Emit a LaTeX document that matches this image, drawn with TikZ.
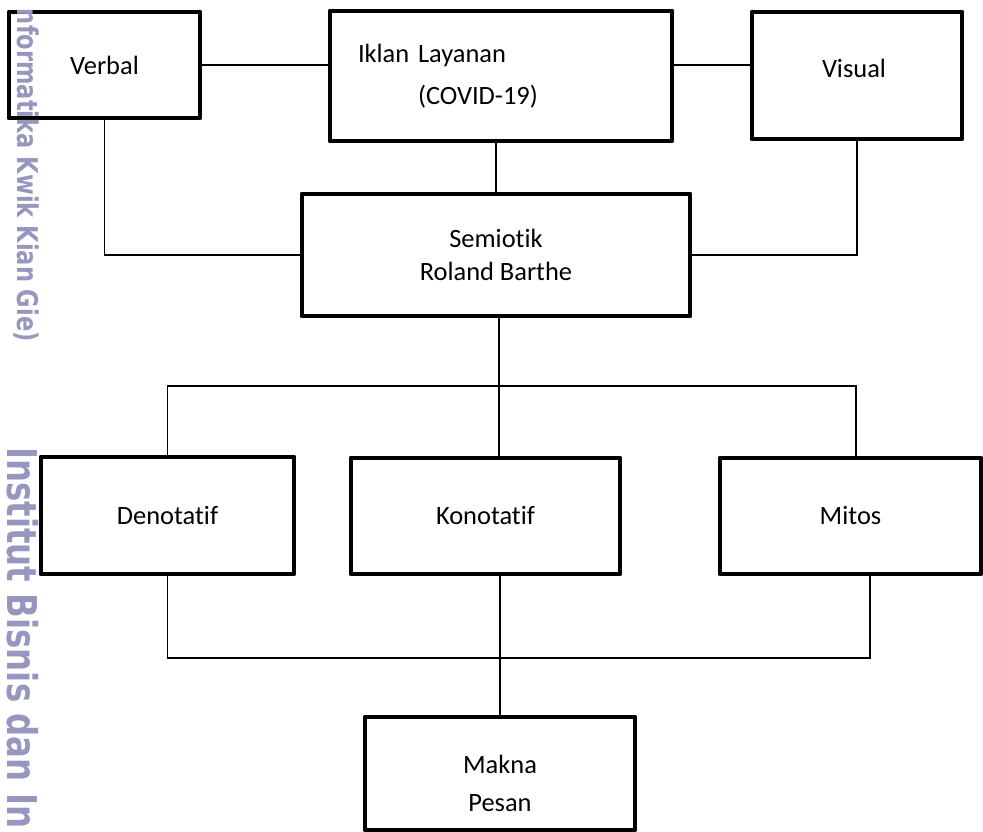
\documentclass[tikz,border=0pt]{standalone}
\usepackage{fontspec}
\setmainfont{Carlito}[Ligatures=NoCommon]
\newfontfamily\wmfont{DejaVu Sans}
\definecolor{tandaair}{RGB}{150,150,190}

\begin{document}
\begin{tikzpicture}[x=0.25mm,y=0.25mm,
kotak/.style ={rectangle, draw=black, line width=3.5pt, line join=round,
  font=\fontsize{18.8pt}{22.6pt}\selectfont, align=center
},
isi/.style ={font=\fontsize{18.8pt}{22.6pt}\selectfont, align=center},
garis/.style ={line width=1pt},
tanda/.style ={rotate=-90, inner sep=0pt, text=tandaair,
  font=\wmfont\bfseries
}]
\useasboundingbox (0,0) rectangle (983,832);
\node (verbal) at (104.5,767) [kotak, minimum width=47.75mm, minimum height=26.5mm] {Verbal};
\node (iklan) at (501,756) [kotak, align=left, text width=85.5mm, inner xsep=0pt, minimum height=32.5mm] {\hspace*{7mm}Iklan Layanan\\[7pt]\hspace*{22mm}(COVID-19)};
\node (visual) at (857,756.5) [kotak, minimum width=52.5mm, minimum height=31.75mm,
  label={[isi, yshift=1.75mm, xshift=-0.75mm]center:Visual}] {};
\node (semiotik) at (496,577) [kotak, minimum width=97mm, minimum height=30.5mm] {Semiotik\\[1pt]Roland Barthe};
\node (denotatif) at (167.5,316.5) [kotak, minimum width=63.25mm, minimum height=29.25mm] {Denotatif};
\node (konotatif) at (485.5,316) [kotak, minimum width=67.25mm, minimum height=29mm] {Konotatif};
\node (mitos) at (850.5,316) [kotak, minimum width=65.25mm, minimum height=29mm] {Mitos};
\node (makna) at (500,58.5) [kotak, minimum width=67.5mm, minimum height=28.25mm,
  label={[isi, yshift=-2.5mm]center:Makna\\[4.4pt]Pesan}] {};
\coordinate (atas) at (499,446);
\coordinate (bawah) at (502,174);
\draw [garis] (verbal.east) -- (verbal.east -| iklan.west);
\draw [garis] (iklan.east |- verbal.east) -- (visual.west |- verbal.east);
\draw [garis] (iklan.south -| semiotik.north) -- (semiotik.north);
\draw [garis] (verbal.south) |- (semiotik.west);
\draw [garis] (visual.south) |- (semiotik.east);
\draw [garis] (semiotik.south -| atas) -- (konotatif.north -| atas);
\draw [garis] (denotatif.north) |- (atas) -| ([xshift=1.4mm]mitos.north);
\draw [garis] (denotatif.south) |- (bawah) -| ([xshift=4.9mm]mitos.south);
\draw [garis] (konotatif.south -| makna.north) -- (makna.north);
\node (wmatas) at (18,490) [tanda, anchor=base east] {\fontsize{20.3pt}{24pt}\selectfont\scalebox{0.79}[1]{nformatika Kwik Kian Gie)}};
\node (wmbawah) at (8,385) [tanda, anchor=base west] {\fontsize{29.2pt}{34pt}\selectfont\scalebox{0.79}[1]{Institut Bisnis dan In}};
\end{tikzpicture}
\end{document}
